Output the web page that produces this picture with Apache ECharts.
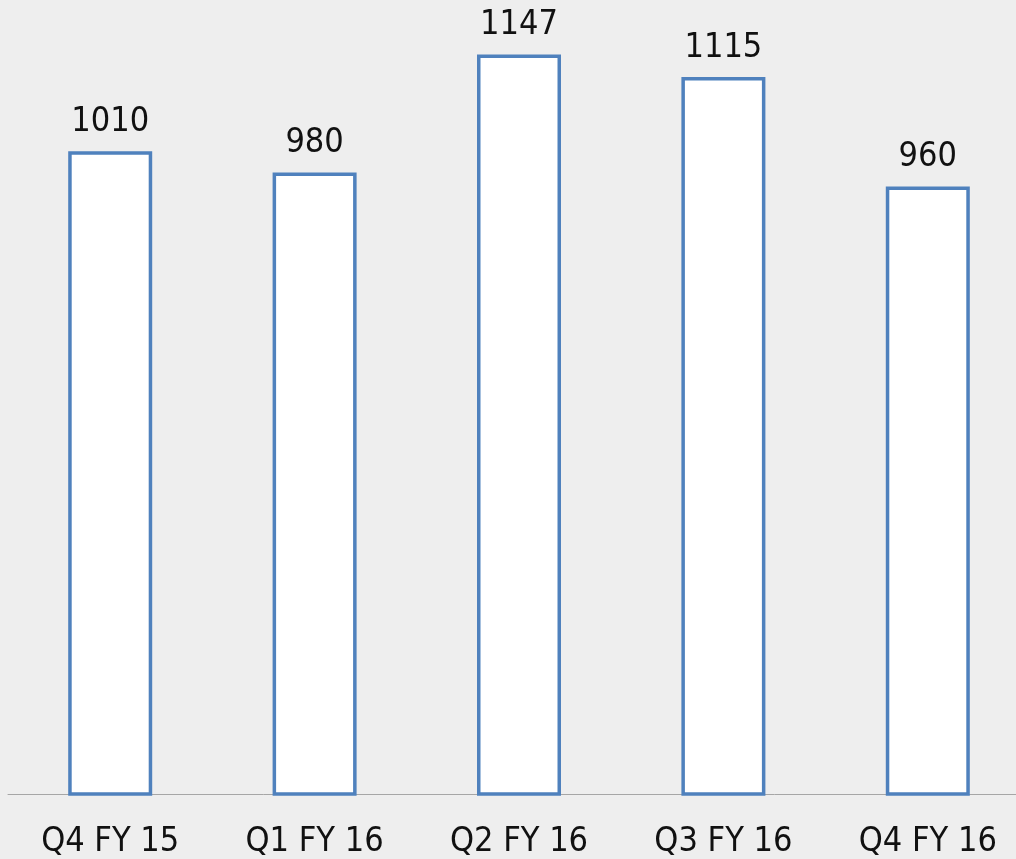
<!DOCTYPE html>
<html>
<head>
<meta charset="utf-8">
<script src="https://cdn.jsdelivr.net/npm/echarts@6/dist/echarts.min.js"></script>
<style>
  html, body { margin: 0; padding: 0; background: #eeeeee; overflow: hidden; }
  /* plot runs past the right edge like in the source slide */
  #chart { width: 1030px; height: 859px; }
</style>
</head>
<body>
<div id="chart"></div>
<script>
  var categories = ['Q4 FY 15', 'Q1 FY 16', 'Q2 FY 16', 'Q3 FY 16', 'Q4 FY 16'];
  var values = [1010, 980, 1147, 1115, 960];

  var font = "'DejaVu Sans Condensed', 'DejaVu Sans', sans-serif";

  var chart = echarts.init(document.getElementById('chart'));
  chart.setOption({
    backgroundColor: '#eeeeee',
    animation: false,
    grid: {
      left: 8,
      right: 0,
      top: 17,
      bottom: 64
    },
    xAxis: {
      type: 'category',
      data: categories,
      axisLine: { lineStyle: { color: '#a6a6a6', width: 1 } },
      axisTick: { show: false },
      axisLabel: {
        color: '#111',
        fontSize: 34,
        fontFamily: font,
        margin: 31
      }
    },
    yAxis: {
      type: 'value',
      min: 100,
      max: 1200,
      show: false,
      splitLine: { show: false }
    },
    series: [{
      type: 'bar',
      data: values,
      barWidth: 84,
      itemStyle: {
        color: '#ffffff',
        borderColor: '#4f81bd',
        borderWidth: 3.5
      },
      label: {
        show: true,
        position: 'top',
        distance: 12,
        color: '#111',
        fontSize: 34,
        fontFamily: font
      }
    }]
  });
</script>
</body>
</html>
